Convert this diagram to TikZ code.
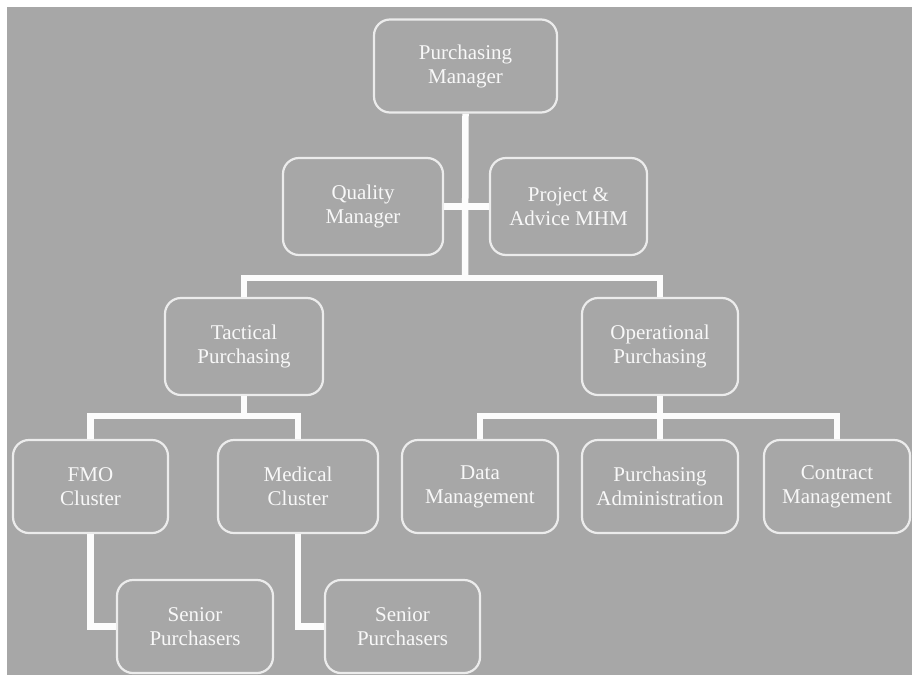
\documentclass[tikz,border=0pt]{standalone}
\usepackage{fontspec}
\setmainfont{Liberation Serif}
\definecolor{panel}{RGB}{167,167,167}
\definecolor{edge}{RGB}{236,236,236}
\definecolor{wire}{RGB}{252,252,252}
\definecolor{label}{RGB}{248,248,248}
\tikzset{
  unit/.style={draw=edge, line width=2.2pt, fill=panel, rounded corners=16pt,
    text=label, align=center, inner sep=0pt,
    font=\fontsize{21}{24}\selectfont},
  conn/.style={draw=wire, line width=6.5pt, line join=miter}
}
\begin{document}
\begin{tikzpicture}[x=1pt,y=-1pt]
  % canvas
  \fill[white] (0,0) rectangle (912,675);
  \fill[panel] (7,7) rectangle (912,675);
  \useasboundingbox (0,0) rectangle (912,675);

  % level 1
  \node[unit, minimum width=183pt, minimum height=93pt] (pm) at (465.5,66) {Purchasing\\Manager};
  % staff positions
  \node[unit, minimum width=160pt, minimum height=97pt] (qm) at (363,206.5) {Quality\\Manager};
  \node[unit, minimum width=157pt, minimum height=97pt] (pa) at (568.5,206.5) {Project \&\\Advice MHM};
  % departments
  \node[unit, minimum width=158pt, minimum height=97pt] (tp) at (244,346.5) {Tactical\\Purchasing};
  \node[unit, minimum width=156pt, minimum height=97pt] (op) at (660,346.5) {Operational\\Purchasing};
  % teams
  \node[unit, minimum width=155pt, minimum height=93pt] (fmo) at (90.5,486.5) {FMO\\Cluster};
  \node[unit, minimum width=160pt, minimum height=93pt] (med) at (298,486.5) {Medical\\Cluster};
  \node[unit, minimum width=156pt, minimum height=93pt] (dm) at (480,486.5) {Data\\Management};
  \node[unit, minimum width=156pt, minimum height=93pt] (pad) at (660,486.5) {Purchasing\\Administration};
  \node[unit, minimum width=146pt, minimum height=93pt] (cm) at (837,486.5) {Contract\\Management};
  % senior purchasers
  \node[unit, minimum width=156pt, minimum height=93pt] (sp1) at (195,626.5) {Senior\\Purchasers};
  \node[unit, minimum width=155pt, minimum height=93pt] (sp2) at (402.5,626.5) {Senior\\Purchasers};

  % junction points
  \coordinate (tbar) at (465,278);
  \coordinate (lbar) at (244,416);
  \coordinate (rbar) at (660,416);

  % connectors
  \draw[conn] (pm.south) -- (tbar);
  \draw[conn] (qm.east) -- (pa.west);
  \draw[conn] (tp.north) |- (tbar) -| (op.north);
  \draw[conn] (tp.south) -- (lbar);
  \draw[conn] (fmo.north) |- (lbar) -| (med.north);
  \draw[conn] (op.south) -- (pad.north);
  \draw[conn] (dm.north) |- (rbar) -| (cm.north);
  \draw[conn] (fmo.south) |- (sp1.west);
  \draw[conn] (med.south) |- (sp2.west);
\end{tikzpicture}
\end{document}
